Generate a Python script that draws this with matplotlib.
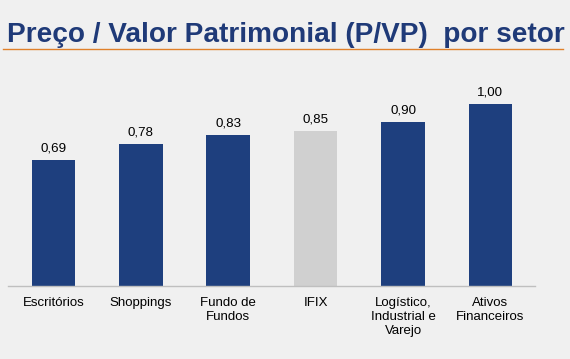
import matplotlib
matplotlib.use("Agg")
import matplotlib.pyplot as plt
from matplotlib.lines import Line2D

categories = ["Escritórios", "Shoppings", "Fundo de\nFundos", "IFIX",
              "Logístico,\nIndustrial e\nVarejo", "Ativos\nFinanceiros"]
values = [0.69, 0.78, 0.83, 0.85, 0.90, 1.00]
value_labels = ["0,69", "0,78", "0,83", "0,85", "0,90", "1,00"]
highlight = "IFIX"

bg = "#f0f0f0"
navy = "#1e3f7e"
gray = "#d0d0d0"

plt.rcParams['font.family'] = ['Liberation Sans', 'DejaVu Sans']

fig = plt.figure(figsize=(5.70, 3.59), dpi=100, facecolor=bg)
W, H = 570, 359
ax = fig.add_axes([8 / W, (H - 285.7) / H, 527 / W, 225.7 / H])
ax.set_facecolor(bg)

x = list(range(len(categories)))
colors = [gray if c == highlight else navy for c in categories]
bars = ax.bar(x, values, width=0.5, color=colors, zorder=2)

for b, lab in zip(bars, value_labels):
    ax.annotate(lab, (b.get_x() + b.get_width() / 2, b.get_height()),
                xytext=(0, 4), textcoords="offset points",
                ha="center", va="bottom", fontsize=9.6, color="#000000")

ax.set_xlim(-0.52, 5.51)
ax.set_ylim(0, 225.7 / 181.5)
ax.set_xticks(x)
ax.set_xticklabels(categories, fontsize=9.5, linespacing=1.25)
ax.tick_params(axis="x", length=0, pad=8)
ax.set_yticks([])
for s in ["top", "right", "left"]:
    ax.spines[s].set_visible(False)
ax.spines["bottom"].set_color("#bfbfbf")
ax.spines["bottom"].set_linewidth(1.0)

fig.text(7 / W, 1 - 42.3 / H, "Preço / Valor Patrimonial (P/VP)  por setor",
         fontsize=20.2, fontweight="bold", color="#1f3a78",
         ha="left", va="baseline")
fig.add_artist(Line2D([3 / W, 563 / W], [1 - 48.7 / H, 1 - 48.7 / H],
                      color="#e0802a", linewidth=1.0))

fig.savefig("out.png", dpi=100, facecolor=bg)
